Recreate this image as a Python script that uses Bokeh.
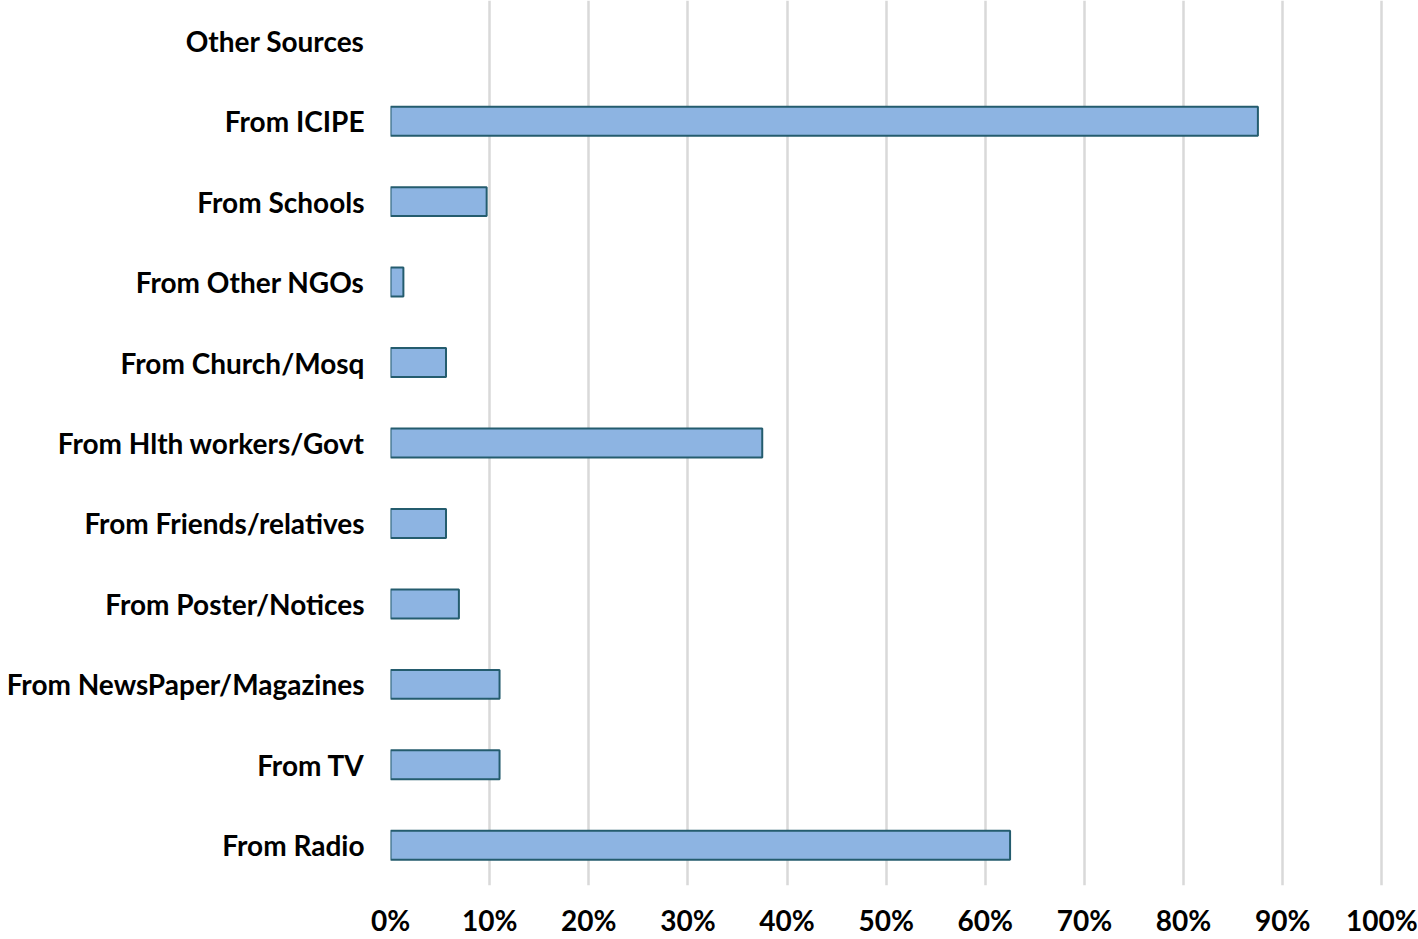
from bokeh.plotting import figure
from bokeh.models import Range1d, FixedTicker, ColumnDataSource
from bokeh.embed import file_html
from bokeh.resources import INLINE

categories = ["From Radio", "From TV", "From NewsPaper/Magazines", "From Poster/Notices",
              "From Friends/relatives", "From Hlth workers/Govt", "From Church/Mosq",
              "From Other NGOs", "From Schools", "From ICIPE", "Other Sources"]
values = [62.5, 11.0, 11.0, 6.9, 5.6, 37.5, 5.6, 1.3, 9.7, 87.5, 0.0]
x_ticks = [0, 10, 20, 30, 40, 50, 60, 70, 80, 90, 100]
x_tick_labels = {t: f"{t}%" for t in x_ticks}

pos = list(range(len(categories)))
line_alpha = [1.0 if v > 0 else 0.0 for v in values]
src = ColumnDataSource(dict(y=pos, v=values, la=line_alpha))

p = figure(frame_width=1028, frame_height=885, output_backend="svg", toolbar_location=None,
           x_range=Range1d(0, 103.7), y_range=Range1d(-0.5, 10.5),
           min_border_left=390, min_border_right=0, min_border_top=0, min_border_bottom=50)
p.outline_line_color = None
p.background_fill_color = "white"

p.hbar(y="y", right="v", left=0, height=0.36, source=src,
       fill_color="#8db4e2", line_color="#245c6e", line_width=2, line_alpha="la")

p.xaxis.ticker = FixedTicker(ticks=x_ticks)
p.xaxis.major_label_overrides = x_tick_labels
p.yaxis.ticker = FixedTicker(ticks=pos)
p.yaxis.major_label_overrides = {i: c for i, c in zip(pos, categories)}

for ax in (p.xaxis, p.yaxis):
    ax.axis_line_color = None
    ax.major_tick_line_color = None
    ax.minor_tick_line_color = None
    ax.major_label_text_font = "Lato"
    ax.major_label_text_font_style = "bold"
    ax.major_label_text_color = "black"

p.xaxis.major_label_text_font_size = "28px"
p.xaxis.major_label_standoff = 11
p.yaxis.major_label_text_font_size = "28px"
p.yaxis.major_label_standoff = 20

p.xgrid.ticker = FixedTicker(ticks=x_ticks)
p.xgrid.grid_line_color = "#d9d9d9"
p.xgrid.grid_line_width = 2.5
p.ygrid.grid_line_color = None

open("out.html", "w").write(file_html(p, INLINE))
